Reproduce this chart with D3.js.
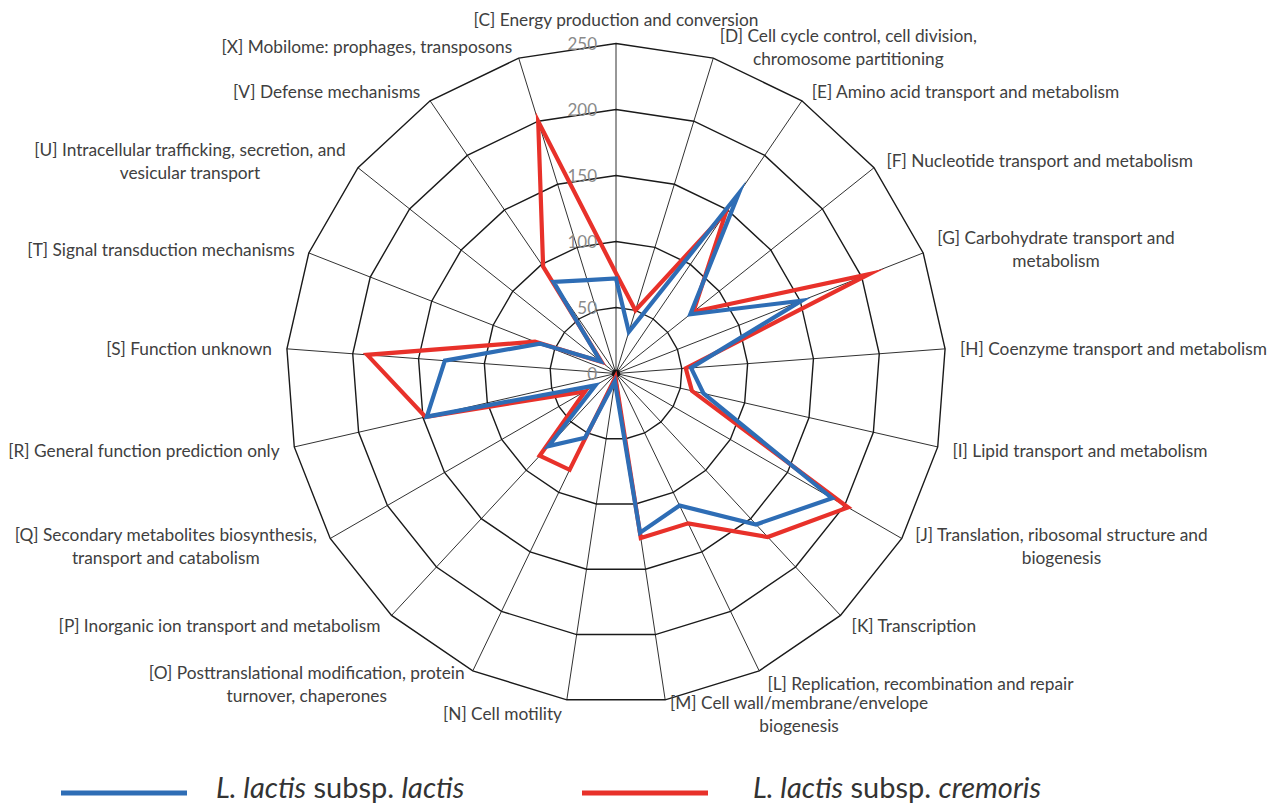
<!DOCTYPE html>
<html>
<head>
<meta charset="utf-8">
<script src="https://cdn.jsdelivr.net/npm/d3@7"></script>
<style>
  html, body { margin: 0; padding: 0; background: #ffffff; }
  svg { display: block; }
  text { font-family: Lato, "Open Sans", sans-serif; }
</style>
</head>
<body>
<svg id="chart" width="1277" height="805"></svg>
<script>
// ---- data ----
const categories = ["C","D","E","F","G","H","I","J","K","L","M","N","O","P","Q","R","S","T","U","V","X"];
const categoryLabels = [
  ["[C] Energy production and conversion"],
  ["[D] Cell cycle control, cell division,", "chromosome partitioning"],
  ["[E] Amino acid transport and metabolism"],
  ["[F] Nucleotide transport and metabolism"],
  ["[G] Carbohydrate transport and", "metabolism"],
  ["[H] Coenzyme transport and metabolism"],
  ["[I] Lipid transport and metabolism"],
  ["[J] Translation, ribosomal structure and", "biogenesis"],
  ["[K] Transcription"],
  ["[L] Replication, recombination and repair"],
  ["[M] Cell wall/membrane/envelope", "biogenesis"],
  ["[N] Cell motility"],
  ["[O] Posttranslational modification, protein", "turnover, chaperones"],
  ["[P] Inorganic ion transport and metabolism"],
  ["[Q] Secondary metabolites biosynthesis,", "transport and catabolism"],
  ["[R] General function prediction only"],
  ["[S] Function unknown"],
  ["[T] Signal transduction mechanisms"],
  ["[U] Intracellular trafficking, secretion, and", "vesicular transport"],
  ["[V] Defense mechanisms"],
  ["[X] Mobilome: prophages, transposons"]
];
const lactisValues   = [72, 33, 165, 72, 151, 57, 68, 189, 156, 111, 122, 6, 54, 75, 18, 147, 130, 62, 15, 84, 74];
const cremorisValues = [76, 50, 148, 75, 206, 53, 59, 203, 169, 126, 126, 3, 81, 85, 27, 148, 189, 66, 14, 98, 200];
const tickValues = [0, 50, 100, 150, 200, 250];
const seriesNames = [
  [{t: "L. lactis", i: true}, {t: " subsp. ", i: false}, {t: "lactis", i: true}],
  [{t: "L. lactis", i: true}, {t: " subsp. ", i: false}, {t: "cremoris", i: true}]
];
const seriesColors = ["#2e6db5", "#e8312a"];

// ---- layout ----
const cx = 616, cy = 373.5, R = 330;
const svg = d3.select("#chart");
const g = svg.append("g").attr("transform", `translate(${cx},${cy})`);

const r = d3.scaleLinear().domain([0, 250]).range([0, R]);
const angle = d3.scaleBand().domain(categories).range([0, 2 * Math.PI]).paddingInner(0).paddingOuter(0).align(0);
const ang = c => angle(c);
const px = (c, v) => r(v) * Math.sin(ang(c));
const py = (c, v) => -r(v) * Math.cos(ang(c));

// rings
const ringLine = d3.lineRadial().angle(d => ang(d.c)).radius(d => r(d.v)).curve(d3.curveLinearClosed);
g.append("g").selectAll("path").data(tickValues.filter(t => t > 0)).join("path")
  .attr("d", t => ringLine(categories.map(c => ({c, v: t}))))
  .attr("fill", "none").attr("stroke", "#1a1a1a").attr("stroke-width", 1.4);

// spokes
g.append("g").selectAll("line").data(categories).join("line")
  .attr("x1", 0).attr("y1", 0)
  .attr("x2", c => px(c, 250)).attr("y2", c => py(c, 250))
  .attr("stroke", "#1a1a1a").attr("stroke-width", 0.9);
g.append("circle").attr("r", 4).attr("fill", "#111");

// tick labels
g.append("g").selectAll("text").data(tickValues).join("text")
  .attr("x", -19).attr("y", t => -r(t))
  .attr("text-anchor", "end").attr("dominant-baseline", "central")
  .attr("font-size", 17).attr("fill", "#8a8a8a")
  .text(t => t);

// series
const seriesLine = d3.lineRadial().angle((d, i) => ang(categories[i])).radius(d => r(d)).curve(d3.curveLinearClosed);
const series = [lactisValues, cremorisValues];
[1, 0].forEach(k => {
  g.append("path").attr("d", seriesLine(series[k]))
    .attr("fill", "none").attr("stroke", seriesColors[k])
    .attr("stroke-width", 4.2).attr("stroke-linejoin", "miter").attr("stroke-miterlimit", 10);
});

// category labels
const lineH = 23;
const lab = g.append("g").attr("font-size", 17.3).attr("fill", "#404040");
categories.forEach((c, i) => {
  const a = ang(c), s = Math.sin(a), co = Math.cos(a);
  const ex = px(c, 250), ey = py(c, 250);
  const lines = categoryLabels[i];
  const tg = lab.append("g");
  const texts = lines.map(t => tg.append("text").attr("text-anchor", "middle").text(t));
  const w = d3.max(texts, t => t.node().getComputedTextLength());
  let bx;
  const pad = 3 + 12 * Math.abs(s);
  if (s > 0.05) bx = ex + pad + w / 2;
  else if (s < -0.05) bx = ex - pad - w / 2;
  else bx = ex;
  let by = ey - co * 13 + 1;
  if (co > 0.99) by -= 12;
  const n = lines.length;
  texts.forEach((t, j) => {
    t.attr("x", bx).attr("y", by + (j - (n - 1) / 2) * lineH).attr("dominant-baseline", "central");
  });
});

// legend
const legend = svg.append("g");
const legX = [61, 582], legTextX = [216, 753], legY = 793;
[0, 1].forEach(k => {
  legend.append("line").attr("x1", legX[k]).attr("x2", legX[k] + 126)
    .attr("y1", legY).attr("y2", legY)
    .attr("stroke", seriesColors[k]).attr("stroke-width", 5);
  const t = legend.append("text").attr("x", legTextX[k]).attr("y", 798)
    .attr("font-size", 29).attr("fill", "#333");
  seriesNames[k].forEach(p => t.append("tspan").attr("font-style", p.i ? "italic" : "normal").text(p.t));
});
</script>
</body>
</html>
